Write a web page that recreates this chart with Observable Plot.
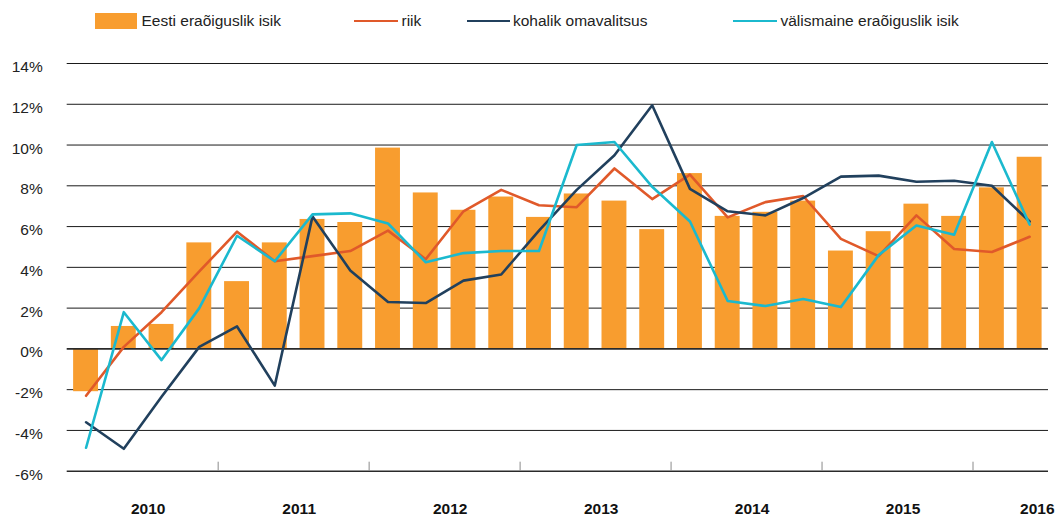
<!DOCTYPE html>
<html>
<head>
<meta charset="utf-8">
<script src="https://cdn.jsdelivr.net/npm/d3@7"></script>
<script src="https://cdn.jsdelivr.net/npm/@observablehq/plot@0.6"></script>
<style>
  html, body { margin: 0; padding: 0; background: #fff; }
  body { width: 1057px; height: 516px; overflow: hidden; font-family: "Liberation Sans", Arial, Helvetica, sans-serif; }
  #legend { position: relative; height: 40px; width: 1057px; font-size: 15.5px; color: #222; }
  #legend .sw { position: absolute; }
  #legend .lb { position: absolute; top: 11px; line-height: 20px; white-space: nowrap; }
</style>
</head>
<body>
<div id="legend"></div>
<div id="chart"></div>
<script>
// ---- data ----
const years = ["2010", "2011", "2012", "2013", "2014", "2015", "2016"];
const quarters = [
  "2010Q1","2010Q2","2010Q3","2010Q4",
  "2011Q1","2011Q2","2011Q3","2011Q4",
  "2012Q1","2012Q2","2012Q3","2012Q4",
  "2013Q1","2013Q2","2013Q3","2013Q4",
  "2014Q1","2014Q2","2014Q3","2014Q4",
  "2015Q1","2015Q2","2015Q3","2015Q4",
  "2016Q1","2016Q2"
];
const eestiEraoiguslik = [-2.1, 1.1, 1.2, 5.2, 3.3, 5.2, 6.35, 6.2, 9.85, 7.65, 6.8, 7.45, 6.45, 7.6, 7.25, 5.85, 8.6, 6.5, 6.7, 7.25, 4.8, 5.75, 7.1, 6.5, 7.9, 9.4];
const riik = [-2.3, 0.1, 1.8, 3.8, 5.75, 4.3, 4.55, 4.8, 5.8, 4.4, 6.75, 7.8, 7.05, 6.95, 8.85, 7.35, 8.55, 6.45, 7.2, 7.5, 5.4, 4.55, 6.55, 4.9, 4.75, 5.5];
const kohalikOmavalitsus = [-3.6, -4.9, -2.35, 0.1, 1.1, -1.8, 6.5, 3.85, 2.3, 2.25, 3.35, 3.65, 5.8, 7.8, 9.5, 11.95, 7.85, 6.75, 6.55, 7.4, 8.45, 8.5, 8.2, 8.25, 8.0, 6.25];
const valismaineEraoiguslik = [-4.85, 1.8, -0.55, 2.0, 5.55, 4.3, 6.6, 6.65, 6.15, 4.25, 4.7, 4.8, 4.8, 10.0, 10.15, 7.95, 6.25, 2.35, 2.1, 2.45, 2.05, 4.6, 6.05, 5.6, 10.15, 6.1];
const yTicks = [-6, -4, -2, 0, 2, 4, 6, 8, 10, 12, 14];

const seriesNames = ["Eesti eraõiguslik isik", "riik", "kohalik omavalitsus", "välismaine eraõiguslik isik"];
const colors = ["#f89d2f", "#e0592a", "#21405d", "#1bb9ce"];

const table = quarters.map((q, i) => ({
  q,
  eesti: eestiEraoiguslik[i],
  riik: riik[i],
  kohalik: kohalikOmavalitsus[i],
  valis: valismaineEraoiguslik[i]
}));

// ---- legend ----
const legend = document.getElementById("legend");
const legendLayout = [
  {kind: "bar", sw: 95, lb: 141.5},
  {kind: "line", sw: 354, lb: 401.5},
  {kind: "line", sw: 466.5, lb: 513},
  {kind: "line", sw: 733, lb: 780.5}
];
legendLayout.forEach((it, i) => {
  const s = document.createElement("div");
  s.className = "sw";
  s.style.left = it.sw + "px";
  s.style.background = colors[i];
  if (it.kind === "bar") { s.style.top = "12.5px"; s.style.width = "42px"; s.style.height = "16.5px"; }
  else { s.style.top = "19.7px"; s.style.width = "43.5px"; s.style.height = "2.7px"; }
  legend.appendChild(s);
  const t = document.createElement("div");
  t.className = "lb";
  t.style.left = it.lb + "px";
  t.textContent = seriesNames[i];
  legend.appendChild(t);
});

// ---- chart ----
const W = 1057, H = 476, ML = 66.7, MR = 9, MT = 23, MB = 45.3;
const step = (W - ML - MR) / quarters.length;
const font = '"Liberation Sans", Arial, Helvetica, sans-serif';

const chart = Plot.plot({
  width: W, height: H,
  marginLeft: ML, marginRight: MR, marginTop: MT, marginBottom: MB,
  style: {fontFamily: font, fontSize: "15.5px", color: "#222", background: "#fff", overflow: "visible"},
  x: {type: "band", domain: quarters, paddingInner: 0.34, paddingOuter: 0.17, round: false, axis: null},
  y: {domain: [-6, 14], axis: null},
  marks: [
    Plot.ruleY(yTicks.filter(d => d !== 0 && d !== -6), {y: d => d, stroke: "#1a1a1a", strokeWidth: 1}),
    Plot.barY(table, {x: "q", y: "eesti", fill: colors[0]}),
    Plot.ruleY([0], {stroke: "#2a2a2a", strokeWidth: 1.6}),
    Plot.ruleY([-6], {stroke: "#2a2a2a", strokeWidth: 1.4}),
    Plot.ruleX(years.slice(1), {x: d => d + "Q1", y1: () => -6, y2: () => -6, insetTop: -9, dx: -step / 2, stroke: "#8a8a8a", strokeWidth: 1}),
    Plot.lineY(table, {x: "q", y: "riik", stroke: colors[1], strokeWidth: 2.6}),
    Plot.lineY(table, {x: "q", y: "kohalik", stroke: colors[2], strokeWidth: 2.6}),
    Plot.lineY(table, {x: "q", y: "valis", stroke: colors[3], strokeWidth: 2.6}),
    Plot.text(yTicks, {y: d => d, text: d => d + "%", frameAnchor: "left", textAnchor: "end", dx: -24.5, dy: 3.5, fill: "#222", fontSize: 15.5}),
    Plot.text(years.slice(0, 6), {x: d => d + "Q2", y: () => -6, text: d => d, dx: 24.4, dy: 37.5, fontWeight: "bold", fill: "#111", fontSize: 15.5}),
    Plot.text(years.slice(6), {x: d => d + "Q2", y: () => -6, text: d => d, dx: 7.7, dy: 37.5, fontWeight: "bold", fill: "#111", fontSize: 15.5})
  ]
});
document.getElementById("chart").appendChild(chart);
</script>
</body>
</html>
